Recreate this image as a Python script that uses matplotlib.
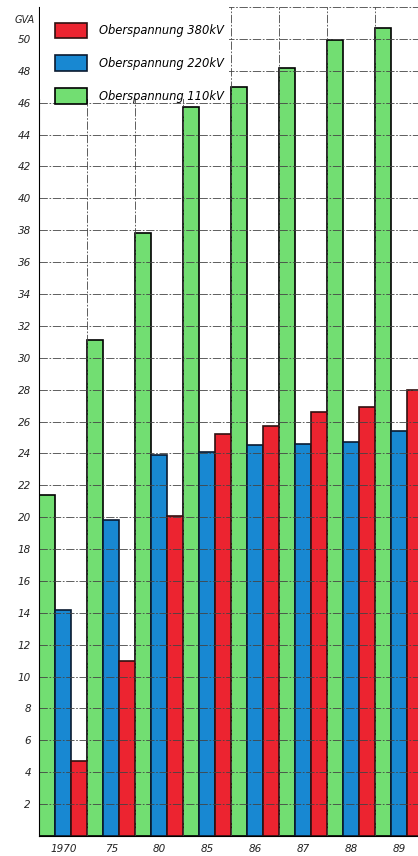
import numpy as np
import matplotlib.pyplot as plt
from matplotlib.patches import Rectangle

years = ["1970", "75", "80", "85", "86", "87", "88", "89"]
kv110 = [21.4, 31.1, 37.8, 45.7, 47.0, 48.2, 49.9, 50.7]
kv220 = [14.2, 19.8, 23.9, 24.1, 24.5, 24.6, 24.7, 25.4]
kv380 = [4.7, 11.0, 20.1, 25.2, 25.7, 26.6, 26.9, 28.0]
labels = ["Oberspannung 380kV", "Oberspannung 220kV", "Oberspannung 110kV"]
yticks = list(range(2, 52, 2))

green = "#72de72"
blue = "#1888d2"
red = "#ec2430"

fig = plt.figure(figsize=(4.18, 8.56), dpi=100)
ax = fig.add_axes([39.3 / 418, 20 / 856, 1 - 39.3 / 418, 829 / 856])

x = np.arange(len(years))
w = 1 / 3
b110 = ax.bar(x + w / 2, kv110, w, color=green, edgecolor="black", linewidth=1.2, zorder=1)
b220 = ax.bar(x + 1.5 * w, kv220, w, color=blue, edgecolor="#0a1a30", linewidth=1.2, zorder=1)
b380 = ax.bar(x + 2.5 * w, kv380, w, color=red, edgecolor="#301010", linewidth=1.2, zorder=1)

ax.set_xlim(0, (418 - 39.3) / 48)
ax.set_ylim(0, 52)

# hand-drawn look grid, on top of the bars
for v in range(2, 54, 2):
    ax.axhline(v, color="#444444", lw=0.6, ls=(0, (10, 2, 2, 2)), zorder=2)
for k in range(1, len(years)):
    ax.axvline(k, color="#444444", lw=0.6, ls=(0, (10, 2, 2, 2)), zorder=2)

ax.set_yticks(yticks)
ax.set_yticklabels([str(t) for t in yticks], fontsize=7.5, style="italic", color="#222222")
ax.set_xticks(x + 0.5)
ax.set_xticklabels(years, fontsize=7.5, style="italic", color="#222222")
ax.tick_params(length=0, pad=6)
ax.text(-0.09, 51.2, "GVA", ha="right", va="center",
        fontsize=7, style="italic", color="#222222", clip_on=False)

for s in ["top", "right"]:
    ax.spines[s].set_visible(False)
ax.spines["left"].set_linewidth(0.8)
ax.spines["bottom"].set_linewidth(0.8)

# white area behind the legend hides the grid there
ax.add_patch(Rectangle((0.002, 0.889), 0.499, 0.111, transform=ax.transAxes,
                       facecolor="white", edgecolor="none", zorder=3))

leg = ax.legend([b380, b220, b110], labels, loc="upper left",
                prop={"style": "italic", "size": 8.3},
                handlelength=2.8, handleheight=1.75, labelspacing=1.45,
                handletextpad=1.0, borderpad=1.35, borderaxespad=0,
                frameon=False)
leg.set_zorder(5)

fig.savefig("out.png", dpi=100)
